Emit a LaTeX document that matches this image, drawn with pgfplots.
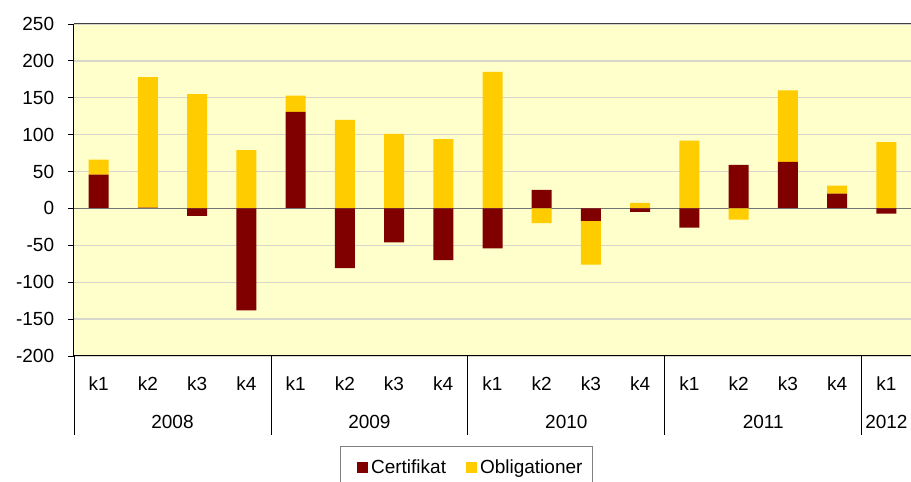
\documentclass[border=0pt]{standalone}
\usepackage{pgfplots}
\pgfplotsset{compat=1.18}
\usepackage{pgfplotstable}
\usepackage{fontspec}
\setmainfont{Liberation Sans}
\definecolor{cert}{HTML}{800000}
\definecolor{oblig}{HTML}{FFCC00}
\definecolor{plotbg}{HTML}{FFFFCC}
\definecolor{gridc}{HTML}{D6D6CC}

\pgfplotstableread{
i C O
0 46 20
1 1 177
2 -10 155
3 -138 79
4 131 22
5 -81 120
6 -46 101
7 -70 94
8 -54 185
9 25 -20
10 -17 -59
11 -4.5 7.5
12 -26 92
13 59 -15
14 63 97
15 20 11
16 -7 90
}\datatable

\newcommand\bigfont{\fontsize{19}{22}\selectfont}

\pgfplotsset{common/.style={
  at={(74pt,126pt)}, anchor=south west,
  scale only axis, width=837pt, height=332pt,
  xmin=-0.5, xmax=16.5, ymin=-200, ymax=250,
  ybar stacked, bar width=20pt,
}}

\begin{document}
\begin{tikzpicture}
\path[use as bounding box] (0,0) rectangle (911pt,482pt);
\begin{axis}[common,
  axis background/.style={fill=plotbg},
  axis line style={draw=none},
  ytick={-200,-150,...,250},
  ymajorgrids, major grid style={gridc, line width=1.4pt},
  ytick pos=left, tick align=outside,
  major tick length=6pt,
  y tick style={black, line width=0.8pt},
  yticklabel style={font=\bigfont, anchor=east, inner sep=0pt, xshift=-13.7pt},
  /pgf/number format/assume math mode=true,
  xtick={0,...,16},
  xticklabels={k1,k2,k3,k4,k1,k2,k3,k4,k1,k2,k3,k4,k1,k2,k3,k4,k1},
  x tick style={draw=none},
  xticklabel style={font=\bigfont, anchor=base, inner sep=0pt, yshift=-28.3pt},
  clip=false,
  legend columns=2,
  legend image code/.code={\path (-6.7pt,0pt); \fill[#1,draw=none] (0pt,-5.5pt) rectangle (11pt,5.5pt);},
  legend style={at={(axis description cs:0.3178,-0.2711)}, anchor=north west,
    draw=gray, line width=0.8pt, fill=white, font=\bigfont,
    inner xsep=10pt, inner ysep=13pt,
    nodes={inner sep=0pt},
    /tikz/every odd column/.append style={column sep=3pt},
    /tikz/every even column/.append style={column sep=13.3pt}},
]
\addplot[fill=cert, draw=none] table[x=i, y expr={max(\thisrow{C},0)}] {\datatable};
\addplot[fill=oblig, draw=none] table[x=i, y expr={max(\thisrow{O},0)}] {\datatable};
\legend{Certifikat,Obligationer}
\draw[black!75, line width=1pt] (axis description cs:0,1) -- (axis description cs:1,1);
\draw[black, line width=1pt] (axis description cs:0,0) -- (axis description cs:1,0);
\draw[black, line width=1pt] (axis description cs:0,0) -- (axis description cs:0,1);
\pgfplotsinvokeforeach{-0.5,3.5,7.5,11.5,15.5}{
  \draw[black, line width=0.8pt] (axis cs:#1,-200) -- ++(0pt,-79pt);
}
\node[font=\bigfont, anchor=base, inner sep=0pt, yshift=-72.5pt] at (axis cs:1.5,-200) {2008};
\node[font=\bigfont, anchor=base, inner sep=0pt, yshift=-72.5pt] at (axis cs:5.5,-200) {2009};
\node[font=\bigfont, anchor=base, inner sep=0pt, yshift=-72.5pt] at (axis cs:9.5,-200) {2010};
\node[font=\bigfont, anchor=base, inner sep=0pt, yshift=-72.5pt] at (axis cs:13.5,-200) {2011};
\node[font=\bigfont, anchor=base, inner sep=0pt, yshift=-72.5pt] at (axis cs:16,-200) {2012};
\end{axis}
\begin{axis}[common, hide axis, clip=false]
\addplot[fill=cert, draw=none] table[x=i, y expr={min(\thisrow{C},0)}] {\datatable};
\addplot[fill=oblig, draw=none] table[x=i, y expr={min(\thisrow{O},0)}] {\datatable};
\draw[black!55, line width=1.5pt] (axis cs:-0.5,0) -- (axis cs:16.5,0);
\end{axis}
\end{tikzpicture}
\end{document}
